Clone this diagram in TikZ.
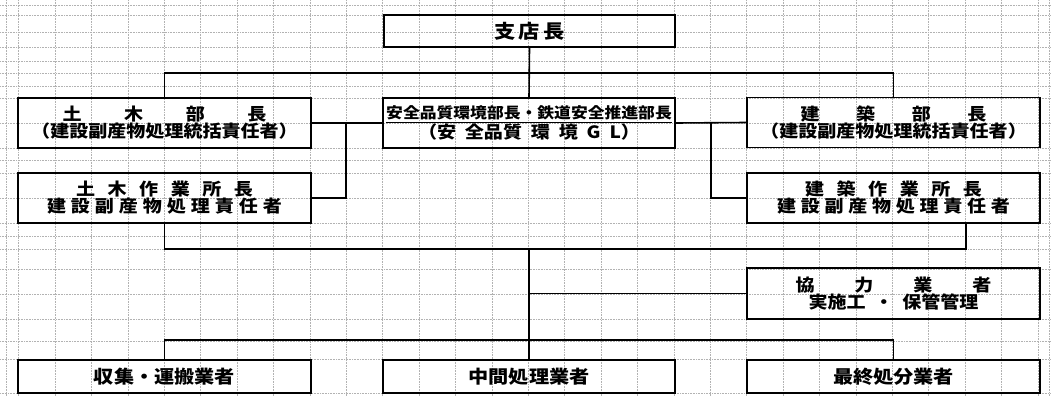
\documentclass[tikz,border=0pt]{standalone}
\usepackage{fontspec}
\setmainfont{Noto Sans CJK JP}[FakeStretch=1.12]
\newcommand\spr[2]{\makebox[#1pt]{#2}}
\begin{document}
\begin{tikzpicture}[x=1pt,y=-1pt,
  gridline/.style={gray!60, line width=0.5pt, dash pattern=on 0.8pt off 0.8pt},
  box/.style={draw, line width=1.6pt, inner sep=0pt, align=center,
    font=\bfseries\fontsize{17}{17}\selectfont},
  tallbox/.style={box, minimum height=50pt},
  lowbox/.style={box, minimum height=33pt, font=\bfseries\fontsize{18}{18}\selectfont},
  link/.style={line width=1.6pt}]
\useasboundingbox (0,0) rectangle (1051,396);
\fill[white] (0,0) rectangle (1051,396);
% background grid
\foreach \k in {0,...,28} \draw[gridline] ({18.6+36.4*\k},0) -- ({18.6+36.4*\k},396);
\foreach \xx in {6,1049} \draw[gridline] (\xx,0) -- (\xx,396);
\foreach \yy in {5,15,32,47,61,73,86,98,123,148,160,173,198,223,236,249,269,294,319,341,359,393}
  \draw[gridline] (0,\yy) -- (1051,\yy);
% boxes
\node[box, minimum width=291pt, minimum height=32pt,
  font=\bfseries\fontsize{19}{19}\selectfont] (shiten) at (529.5,31) {\spr{70}{支\hfill 店\hfill 長}};
\node[tallbox, minimum width=293pt] (doboku) at (164.5,123)
  {\spr{204}{土\hfill 木\hfill 部\hfill 長}\\（建設副産物処理統括責任者）};
\node[tallbox, minimum width=292pt] (anzen) at (529,123)
  {{\fontsize{15}{17}\selectfont\underline{安全品質環境部長・鉄道安全推進部長}}\\
   \spr{222}{（安\hfill 全品質\hfill 環\hfill 境\hfill G\hfill L）}};
\node[tallbox, minimum width=293pt] (kenchiku) at (893.5,122.5)
  {\spr{186}{建\hfill 築\hfill 部\hfill 長}\\（建設副産物処理統括責任者）};
\node[tallbox, minimum width=293pt] (dobokuS) at (164.5,198)
  {\spr{177}{土\hfill 木\hfill 作\hfill 業\hfill 所\hfill 長}\\
   \spr{235}{建\hfill 設\hfill 副\hfill 産\hfill 物\hfill 処\hfill 理\hfill 責\hfill 任\hfill 者}};
\node[tallbox, minimum width=293pt] (kenchikuS) at (893.5,198)
  {\spr{177}{建\hfill 築\hfill 作\hfill 業\hfill 所\hfill 長}\\
   \spr{233}{建\hfill 設\hfill 副\hfill 産\hfill 物\hfill 処\hfill 理\hfill 責\hfill 任\hfill 者}};
\node[tallbox, minimum width=293pt, minimum height=51pt] (kyoryoku) at (893.5,293.5)
  {\spr{196}{協\hfill 力\hfill 業\hfill 者}\\ \spr{170}{実施工\hfill ・\hfill 保管管理}};
\node[lowbox, minimum width=293pt] (shushu) at (164.5,376.5) {収集・運搬業者};
\node[lowbox, minimum width=292pt] (chukan) at (529,376.5) {中間処理業者};
\node[lowbox, minimum width=293pt] (saishu) at (893.5,376.5) {最終処分業者};
% junction points
\coordinate (topbar) at (529,73);
\coordinate (lj) at (346,123);
\coordinate (rj) at (711,123);
\coordinate (lowR) at (966,249);
\coordinate (lowC) at (529,249);
\coordinate (botbar) at (529,340);
% connectors
\draw[link] (shiten.south) -- (anzen.north);
\draw[link] (doboku.north) |- (topbar) -| (kenchiku.north);
\draw[link] (doboku.east) -- (anzen.west);
\draw[link] (anzen.east) -- (kenchiku.west);
\draw[link] (lj) |- (dobokuS.east);
\draw[link] (rj) |- (kenchikuS.west);
\draw[link] (dobokuS.south) |- (lowR) -- (lowR |- kenchikuS.south);
\draw[link] (lowC) -- (chukan.north);
\draw[link] (lowC |- kyoryoku.west) -- (kyoryoku.west);
\draw[link] (shushu.north) |- (botbar) -| (saishu.north);
\end{tikzpicture}
\end{document}
